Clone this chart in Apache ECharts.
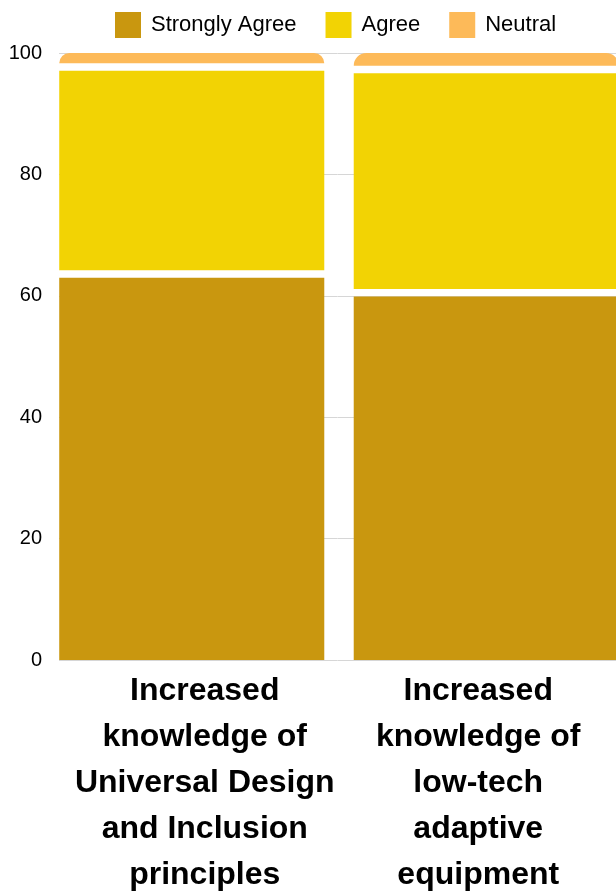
<!DOCTYPE html>
<html><head><meta charset="utf-8">
<script src="https://cdn.jsdelivr.net/npm/echarts@6/dist/echarts.min.js"></script>
<style>html,body{margin:0;padding:0;background:#fff}#c{width:616px;height:892px}</style>
</head><body><div id="c"></div>
<script>
const categories = ["Increased\nknowledge of\nUniversal Design\nand Inclusion\nprinciples", "Increased\nknowledge of\nlow-tech\nadaptive\nequipment"];
const seriesNames = ["Strongly Agree", "Agree", "Neutral"];
const stronglyAgree = [63.6, 60.5];
const agree = [34.1, 36.8];
const neutral = [2.3, 2.7];
const yTicks = [0, 20, 40, 60, 80, 100];
const colors = ['#C9970F', '#F2D304', '#FDBA59'];

const FONT = '"Liberation Sans", Arial, Helvetica, sans-serif';
const stacks = [stronglyAgree, agree, neutral];
const GAP = 7.5;

function makeRender(si) {
  return function (params, api) {
    const ci = api.value(0);
    const val = api.value(1);
    let base = 0;
    for (let k = 0; k < si; k++) base += stacks[k][ci];
    const pBottom = api.coord([ci, base]);
    const pTop = api.coord([ci, base + val]);
    const bw = api.size([1, 0])[0] * 0.9;
    let y0 = pBottom[1], y1 = pTop[1];
    if (si > 0) y0 -= GAP / 2;
    if (si < stacks.length - 1) y1 += GAP / 2;
    const isTop = si === stacks.length - 1;
    return {
      type: 'rect',
      shape: { x: pBottom[0] - bw / 2, y: y1, width: bw, height: Math.max(0, y0 - y1), r: isTop ? [14, 14, 0, 0] : 0 },
      style: api.style()
    };
  };
}

const chart = echarts.init(document.getElementById('c'), null, { renderer: 'canvas' });
chart.setOption({
  animation: false,
  color: colors,
  legend: {
    top: 7, left: 110, itemWidth: 26, itemHeight: 26, itemGap: 29, icon: 'rect',
    data: seriesNames,
    textStyle: { fontSize: 22, color: '#000', fontFamily: FONT, padding: [0, 0, 0, 5] }
  },
  grid: [
    { left: 59, right: 0, top: 53, bottom: 232, outerBoundsMode: 'none' },
    { left: 44.5, width: 589, top: 53, bottom: 232, outerBoundsMode: 'none' }
  ],
  xAxis: [
    { gridIndex: 0, type: 'value', min: 0, max: 1, show: false },
    {
      gridIndex: 1, type: 'category', data: categories,
      axisLine: { show: false }, axisTick: { show: false },
      axisLabel: {
        interval: 0, margin: 8,
        formatter: function (v, i) { return '{c' + i + '|' + v + '}'; },
        rich: {
          c0: { fontSize: 32, fontWeight: 'bold', fontFamily: FONT, color: '#000', lineHeight: 46, padding: [0, 0, 0, 26] },
          c1: { fontSize: 32, fontWeight: 'bold', fontFamily: FONT, color: '#000', lineHeight: 46, padding: [0, 16, 0, 0] }
        }
      }
    }
  ],
  yAxis: [
    {
      gridIndex: 0, type: 'value', min: yTicks[0], max: yTicks[yTicks.length - 1], interval: yTicks[1] - yTicks[0],
      axisLine: { show: false }, axisTick: { show: false },
      axisLabel: { fontSize: 20, color: '#000', fontFamily: FONT, margin: 17 },
      splitLine: { lineStyle: { color: '#d6d6d6', width: 1 } }
    },
    { gridIndex: 1, type: 'value', min: 0, max: 100, show: false, splitLine: { show: false } }
  ],
  series: seriesNames.map(function (name, si) {
    return {
      name: name, type: 'custom', xAxisIndex: 1, yAxisIndex: 1,
      itemStyle: { color: colors[si] },
      encode: { x: 0, y: 1 },
      renderItem: makeRender(si),
      data: stacks[si].map(function (v, i) { return [i, v]; })
    };
  })
});
</script></body></html>
